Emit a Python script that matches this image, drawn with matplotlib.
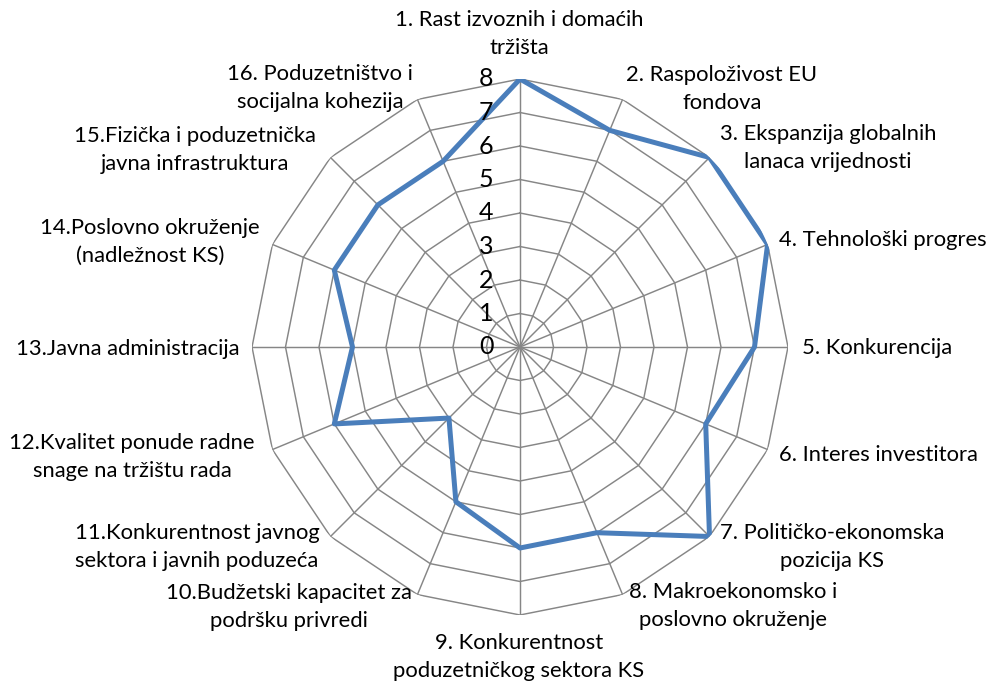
import numpy as np
import matplotlib
matplotlib.use("Agg")
import matplotlib.pyplot as plt

categories = [
    "1. Rast izvoznih i domaćih\ntržišta",
    "2. Raspoloživost EU\nfondova",
    "3. Ekspanzija globalnih\nlanaca vrijednosti",
    "4. Tehnološki progres",
    "5. Konkurencija",
    "6. Interes investitora",
    "7. Političko-ekonomska\npozicija KS",
    "8. Makroekonomsko i\nposlovno okruženje",
    "9. Konkurentnost\npoduzetničkog sektora KS",
    "10.Budžetski kapacitet za\npodršku privredi",
    "11.Konkurentnost javnog\nsektora i javnih poduzeća",
    "12.Kvalitet ponude radne\nsnage na tržištu rada",
    "13.Javna administracija",
    "14.Poslovno okruženje\n(nadležnost KS)",
    "15.Fizička i poduzetnička\njavna infrastruktura",
    "16. Poduzetništvo i\nsocijalna kohezija",
]
values = [8, 7, 8, 8, 7, 6, 8, 6, 6, 5, 3, 6, 5, 6, 6, 6]
ticks = [0, 1, 2, 3, 4, 5, 6, 7, 8]

# label layout (pixel positions in the 991x683 canvas, alignment)
label_pos = [
    (519, 34, "center"), (722, 89, "center"), (828, 148, "center"),
    (779, 240, "left"), (802, 348, "left"), (779, 455, "left"),
    (832, 547, "center"), (733, 606, "center"), (519, 657, "center"),
    (289, 607, "center"), (197, 547, "center"), (132, 457, "center"),
    (239, 349, "right"), (150, 242, "center"), (195, 150, "center"),
    (320, 88, "center"),
]

plt.rcParams['font.family'] = ['Lato', 'DejaVu Sans']
W, H = 991, 683
fig = plt.figure(figsize=(W / 100, H / 100), dpi=100)
cx, cy, R = 520, 347, 268
ax = fig.add_axes([(cx - R) / W, 1 - (cy + R) / H, 2 * R / W, 2 * R / H],
                  projection='polar')
ax.set_theta_zero_location('N')
ax.set_theta_direction(-1)
ax.set_ylim(0, max(ticks))
ax.grid(False)
ax.spines['polar'].set_visible(False)
ax.set_xticks([])
ax.set_yticks([])
ax.patch.set_alpha(0)

n = len(categories)
theta = np.arange(n) * 2 * np.pi / n
theta_c = np.append(theta, theta[0])

grid_col = '#868686'
for k in ticks[1:]:
    ax.plot(theta_c, [k] * (n + 1), color=grid_col, lw=1.05, zorder=1)
for t in theta:
    ax.plot([t, t], [0, max(ticks)], color=grid_col, lw=1.05, zorder=1)

vals_c = values + values[:1]
ax.plot(theta_c, vals_c, color='#4a7ebb', lw=3.6, solid_joinstyle='round', zorder=3)

for k in ticks:
    ax.annotate(str(k), xy=(0, k), xytext=(-19, 0), textcoords='offset points',
                ha='right', va='center', fontsize=18, color='black', zorder=4)

for lab, (x, y, ha) in zip(categories, label_pos):
    fig.text(x / W, 1 - y / H, lab, ha=ha, va='center', multialignment='center',
             fontsize=15.8, linespacing=1.48, color='black')

fig.savefig('out.png', dpi=100)
